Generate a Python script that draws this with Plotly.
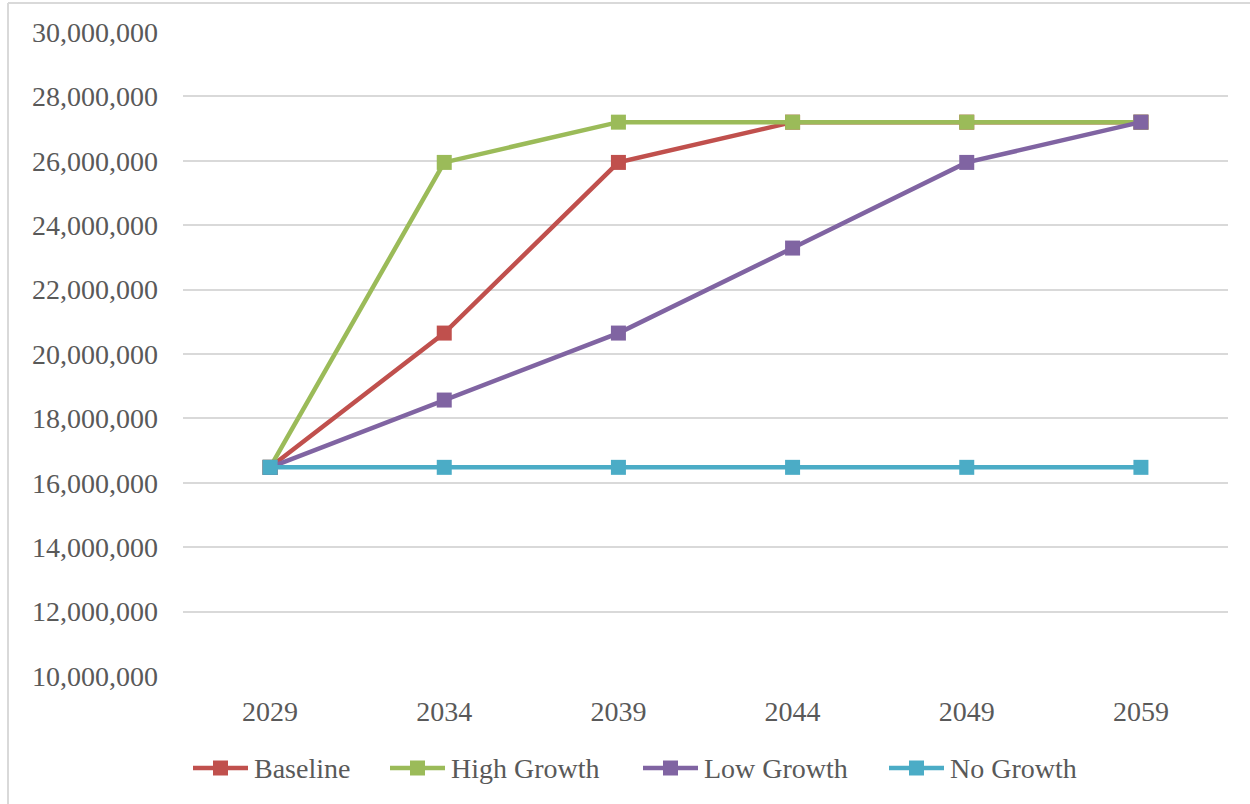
import plotly.graph_objects as go

years = ["2029", "2034", "2039", "2044", "2049", "2059"]

baseline = [16_480_000, 20_650_000, 25_950_000, 27_200_000, 27_200_000, 27_200_000]
high_growth = [16_480_000, 25_950_000, 27_200_000, 27_200_000, 27_200_000, 27_200_000]
low_growth = [16_480_000, 18_570_000, 20_650_000, 23_290_000, 25_950_000, 27_200_000]
no_growth = [16_480_000, 16_480_000, 16_480_000, 16_480_000, 16_480_000, 16_480_000]

series_names = ["Baseline", "High Growth", "Low Growth", "No Growth"]
series_values = [baseline, high_growth, low_growth, no_growth]
series_colors = ["#C0504D", "#9BBB59", "#8064A2", "#4BACC6"]

FONT = "'Liberation Serif', 'Times New Roman', serif"
TEXT = "#595959"
GRID = "#D9D9D9"
FS = 28

fig = go.Figure()
for name, vals, color in zip(series_names, series_values, series_colors):
    fig.add_trace(go.Scatter(
        x=years, y=vals, name=name, mode="lines+markers",
        line=dict(color=color, width=4.5),
        marker=dict(symbol="square", size=15, color=color),
        showlegend=False,
    ))

W, H = 1250, 804
L, R, T, B = 183, 22, 32, 128
pw, ph = W - L - R, H - T - B


def px_x(p):
    return (p - L) / pw


def px_y(p):
    return (H - B - p) / ph


# chart frame (left and top edges visible)
fig.add_shape(type="line", xref="paper", yref="paper",
              x0=px_x(8), x1=px_x(1252), y0=px_y(3), y1=px_y(3),
              line=dict(color=GRID, width=2))
fig.add_shape(type="line", xref="paper", yref="paper",
              x0=px_x(8), x1=px_x(8), y0=px_y(3), y1=px_y(806),
              line=dict(color=GRID, width=2))

# legend row: long line sample with square marker, then label
legend_left = [193, 390, 643, 889]
legend_y = 768
sample_len = 55
for name, color, x0 in zip(series_names, series_colors, legend_left):
    yc = px_y(legend_y)
    fig.add_shape(type="line", xref="paper", yref="paper",
                  x0=px_x(x0), x1=px_x(x0 + sample_len), y0=yc, y1=yc,
                  line=dict(color=color, width=4.5))
    xc = x0 + sample_len / 2
    fig.add_shape(type="rect", xref="paper", yref="paper",
                  x0=px_x(xc - 7.5), x1=px_x(xc + 7.5),
                  y0=px_y(legend_y + 7.5), y1=px_y(legend_y - 7.5),
                  line=dict(width=0), fillcolor=color)
    fig.add_annotation(xref="paper", yref="paper",
                       x=px_x(x0 + sample_len + 4), y=yc,
                       xanchor="left", yanchor="middle",
                       text=name, showarrow=False,
                       font=dict(family=FONT, size=FS, color=TEXT))

fig.update_layout(
    width=W, height=H,
    margin=dict(l=L, r=R, t=T, b=B, pad=0),
    paper_bgcolor="white", plot_bgcolor="white",
    font=dict(family=FONT, size=FS, color=TEXT),
    showlegend=False,
    xaxis=dict(
        type="category", range=[-0.5, 5.5], showgrid=False, zeroline=False,
        showline=False, ticks="", ticklabelstandoff=16,
        tickfont=dict(family=FONT, size=FS, color=TEXT),
    ),
    yaxis=dict(
        range=[10_000_000, 30_000_000], dtick=2_000_000,
        tickformat=",", showgrid=True, gridcolor=GRID, gridwidth=2,
        zeroline=False, showline=False, ticks="", ticklabelstandoff=24,
        tickfont=dict(family=FONT, size=FS, color=TEXT),
    ),
)

fig.write_html("out.html")
